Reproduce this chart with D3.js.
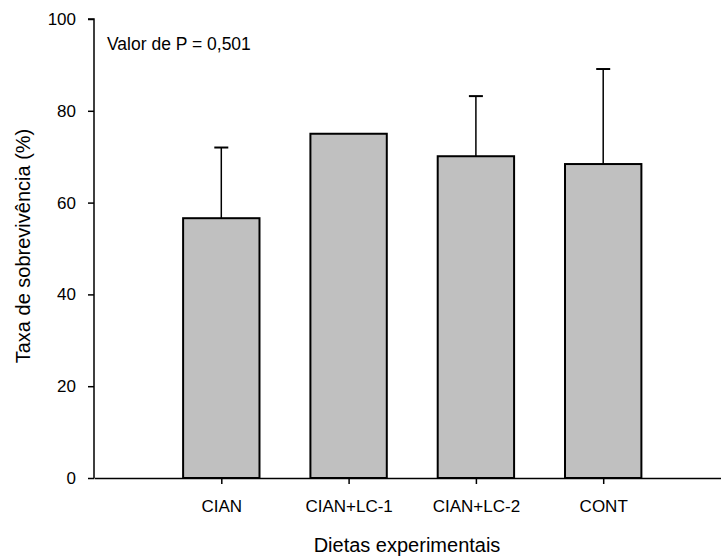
<!DOCTYPE html>
<html lang="pt">
<head>
    <meta charset="UTF-8">
    <title>Taxa de sobrevivência</title>
    <script type="text/javascript" src="https://cdn.jsdelivr.net/npm/d3@7/dist/d3.min.js"></script>
    <style>
        body { margin: 0; background: #fff; }
        text { font-family: "Liberation Sans", Arial, sans-serif; fill: #000; }
    </style>
</head>
<body>
<script type="text/javascript">
    let width = 721, height = 558;

    // dados
    let categorias = ['CIAN', 'CIAN+LC-1', 'CIAN+LC-2', 'CONT'];
    let medias = [56.6, 75.0, 70.1, 68.4];
    let erros = [15.4, 0, 13.1, 20.7];
    let yTicks = [0, 20, 40, 60, 80, 100];

    let svg = d3.select('body').append('svg')
        .attr('width', width)
        .attr('height', height);

    // posições: categoria i fica em i+1 num eixo de 0 a 5
    let x = d3.scaleLinear().domain([0, 5]).range([94, 730.5]);
    let y = d3.scaleLinear().domain([0, 100]).range([478, 19]);
    let barW = x(0.6) - x(0);

    // barras
    svg.selectAll('rect.bar')
        .data(medias)
        .enter()
        .append('rect')
        .attr('class', 'bar')
        .attr('x', (d, i) => x(i + 1) - barW / 2)
        .attr('y', d => y(d))
        .attr('width', barW)
        .attr('height', d => y(0) - y(d))
        .attr('fill', '#c0c0c0')
        .attr('stroke', '#000')
        .attr('stroke-width', 2);

    // barras de erro (só a parte de cima)
    let eb = svg.selectAll('g.err')
        .data(medias.map((m, i) => ({m: m, e: erros[i], i: i})).filter(d => d.e > 0))
        .enter()
        .append('g')
        .attr('class', 'err');
    eb.append('line')
        .attr('x1', d => x(d.i + 1)).attr('x2', d => x(d.i + 1))
        .attr('y1', d => y(d.m)).attr('y2', d => y(d.m + d.e))
        .attr('stroke', '#000').attr('stroke-width', 1.5);
    eb.append('line')
        .attr('x1', d => x(d.i + 1) - 7).attr('x2', d => x(d.i + 1) + 7)
        .attr('y1', d => y(d.m + d.e)).attr('y2', d => y(d.m + d.e))
        .attr('stroke', '#000').attr('stroke-width', 2);

    // eixo y
    let yAxis = svg.append('g')
        .attr('transform', 'translate(94,0)')
        .call(d3.axisLeft(y).tickValues(yTicks).tickSize(6).tickPadding(12));
    // eixo x
    let xAxis = svg.append('g')
        .attr('transform', 'translate(0,478)')
        .call(d3.axisBottom(x).tickValues([1, 2, 3, 4])
            .tickFormat(d => categorias[d - 1]).tickSize(6).tickSizeOuter(0).tickPadding(16));

    [yAxis, xAxis].forEach(a => {
        a.select('.domain').attr('stroke', '#000').attr('stroke-width', 1.5);
        a.selectAll('.tick line').attr('stroke', '#000').attr('stroke-width', 1.5);
        a.selectAll('text').style('font-size', '17px')
            .style('font-family', '"Liberation Sans", Arial, sans-serif').attr('fill', '#000');
    });
    yAxis.select('.domain').attr('d', 'M-6,' + y(100) + 'H0V' + y(0));

    // títulos
    svg.append('text')
        .attr('x', 107).attr('y', 50)
        .style('font-size', '17.5px')
        .text('Valor de P = 0,501');

    svg.append('text')
        .attr('transform', 'translate(30,246) rotate(-90)')
        .attr('text-anchor', 'middle')
        .style('font-size', '20px')
        .text('Taxa de sobrevivência (%)');

    svg.append('text')
        .attr('x', 407).attr('y', 552)
        .attr('text-anchor', 'middle')
        .style('font-size', '20px')
        .text('Dietas experimentais');
</script>
</body>
</html>
